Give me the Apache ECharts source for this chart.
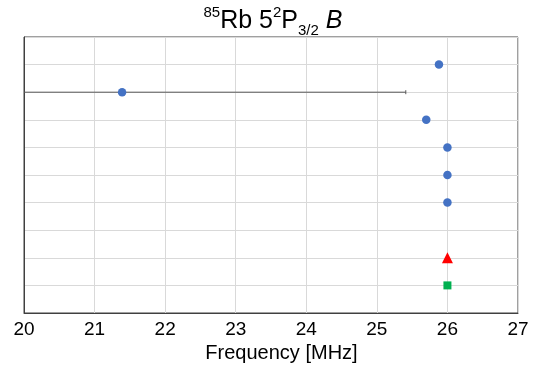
<!DOCTYPE html>
<html><head><meta charset="utf-8">
<script src="https://cdn.jsdelivr.net/npm/echarts@6/dist/echarts.min.js"></script>
<style>html,body{margin:0;padding:0;background:#fff}#c{width:546px;height:369px}</style>
</head><body><div id="c"></div>
<script>
// Data
const xTicks = [20, 21, 22, 23, 24, 25, 26, 27];
const blueRows = [9, 8, 7, 6, 5, 4];
const blueValues = [25.88, 21.39, 25.70, 26.0, 26.0, 26.0];
const blueErrors = [0, 4.02, 0, 0, 0, 0];
const triangleRows = [2];
const triangleValues = [26.0];
const squareRows = [1];
const squareValues = [26.0];

const chart = echarts.init(document.getElementById('c'));
const font = 'Liberation Sans, Arial, sans-serif';
const errData = blueRows.map((r, i) => [blueValues[i] - blueErrors[i], blueValues[i] + blueErrors[i], r]).filter((d, i) => blueErrors[i] > 0);

chart.setOption({
  animation: false,
  title: {
    text: '{sup|85}{n|Rb 5}{sup|2}{n|P}{sub|3/2}{n| }{i|B}',
    left: 'center', top: -3,
    textStyle: {
      fontFamily: font, fontWeight: 'normal',
      rich: {
        n: {fontSize: 25, fontFamily: font, fontWeight: 'normal', color: '#000', lineHeight: 38},
        i: {fontSize: 25, fontFamily: font, fontWeight: 'normal', color: '#000', fontStyle: 'italic', lineHeight: 38},
        sup: {fontSize: 15, fontFamily: font, fontWeight: 'normal', color: '#000', verticalAlign: 'top', lineHeight: 38, padding: [3, 0, 0, 0]},
        sub: {fontSize: 15, fontFamily: font, fontWeight: 'normal', color: '#000', verticalAlign: 'bottom', lineHeight: 38, padding: [0, 0, 2, 0]}
      }
    }
  },
  grid: {left: 24, right: 28, top: 37, bottom: 56, show: true, borderColor: '#404040', borderWidth: 1},
  xAxis: {
    type: 'value', min: 20, max: 27, interval: 1,
    name: 'Frequency [MHz]', nameLocation: 'middle', nameGap: 28,
    nameTextStyle: {fontFamily: font, fontSize: 20, color: '#000', padding: [0, 0, 0, 21]},
    axisLine: {show: true, lineStyle: {color: '#404040'}},
    axisTick: {show: false},
    axisLabel: {fontFamily: font, fontSize: 19, color: '#000', margin: 7},
    splitLine: {show: true, lineStyle: {color: '#d9d9d9', width: 1}}
  },
  yAxis: {
    type: 'value', min: 0, max: 10, interval: 1,
    axisLine: {show: true, lineStyle: {color: '#404040'}},
    axisTick: {show: false},
    axisLabel: {show: false},
    splitLine: {show: true, lineStyle: {color: '#d9d9d9', width: 1}}
  },
  series: [
    {
      type: 'custom',
      clip: true,
      data: errData,
      renderItem: function (params, api) {
        const lo = api.coord([Math.max(api.value(0), 20), api.value(2)]);
        const hi = api.coord([api.value(1), api.value(2)]);
        return {
          type: 'group',
          children: [
            {type: 'line', shape: {x1: lo[0], y1: lo[1], x2: hi[0], y2: hi[1]}, style: {stroke: '#595959', lineWidth: 1}},
            {type: 'line', shape: {x1: hi[0], y1: hi[1] - 2, x2: hi[0], y2: hi[1] + 2}, style: {stroke: '#595959', lineWidth: 1}}
          ]
        };
      },
      z: 1
    },
    {
      type: 'scatter', symbol: 'circle', symbolSize: 8.5,
      itemStyle: {color: '#4472C4', opacity: 1},
      data: blueRows.map((r, i) => [blueValues[i], r]), z: 3
    },
    {
      type: 'scatter', symbol: 'triangle', symbolSize: 11,
      itemStyle: {color: '#FF0000', opacity: 1},
      data: triangleRows.map((r, i) => [triangleValues[i], r]), z: 3
    },
    {
      type: 'scatter', symbol: 'rect', symbolSize: 8,
      itemStyle: {color: '#00B050', opacity: 1},
      data: squareRows.map((r, i) => [squareValues[i], r]), z: 3
    }
  ]
});
</script></body></html>
